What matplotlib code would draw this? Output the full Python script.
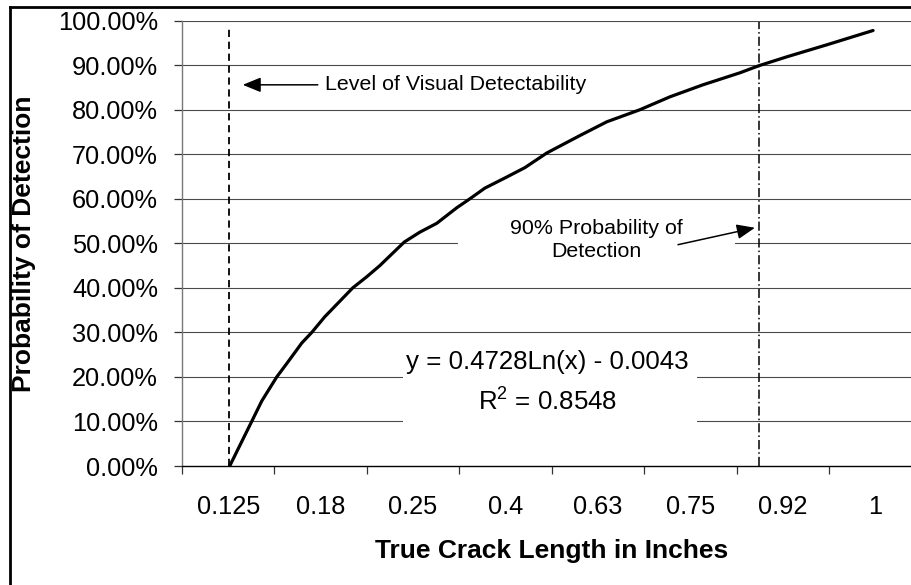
import matplotlib
matplotlib.use("Agg")
import matplotlib.pyplot as plt
from matplotlib.lines import Line2D
from matplotlib.patches import Rectangle
from matplotlib.ticker import FuncFormatter

plt.rcParams['font.family'] = ['Liberation Sans', 'DejaVu Sans']
plt.rcParams['mathtext.fontset'] = 'custom'
plt.rcParams['mathtext.rm'] = 'Liberation Sans'
plt.rcParams['mathtext.it'] = 'Liberation Sans'

# ---- data ----
categories = ['0.125', '0.18', '0.25', '0.4', '0.63', '0.75', '0.92', '1']
# probability-of-detection curve (x in category-position units, y as fraction)
curve_x = [0.016, 0.254, 0.363, 0.525, 0.633, 0.795, 0.904, 1.044, 1.347, 1.499,
           1.640, 1.905, 2.072, 2.256, 2.473, 2.614, 2.776, 3.014, 3.209, 3.447,
           3.804, 4.096, 4.453, 4.778, 5.135, 5.536, 5.742, 6.045, 6.478, 6.976]
curve_y = [0.000, 0.100, 0.146, 0.200, 0.230, 0.276, 0.300, 0.335, 0.400, 0.425,
           0.450, 0.503, 0.525, 0.545, 0.580, 0.600, 0.624, 0.649, 0.670, 0.703,
           0.742, 0.773, 0.800, 0.829, 0.856, 0.883, 0.899, 0.919, 0.946, 0.978]
visual_level_x = 0.005
visual_level_top = 0.982
pod90_x = 5.74
pod90_top = 0.998
y_ticks = [0.0, 0.1, 0.2, 0.3, 0.4, 0.5, 0.6, 0.7, 0.8, 0.9, 1.0]

W, H = 912, 585
fig = plt.figure(figsize=(W / 100, H / 100), dpi=100)
ax = fig.add_axes([182 / W, 1 - 466 / H, (921.5 - 182) / W, (466 - 20.7) / H])

ax.set_xlim(-0.5, len(categories) - 0.5)
ax.set_ylim(0, 1)

# gridlines
for yv in y_ticks[1:]:
    ax.axhline(yv, color='#4a4a4a', lw=0.8, zorder=1)

# white text boxes covering gridlines
ax.add_patch(Rectangle((1.89, 0.09), 5.07 - 1.89, 0.285 - 0.09, facecolor='white',
                       edgecolor='none', zorder=2))
ax.add_patch(Rectangle((2.49, 0.45), 5.48 - 2.49, 0.11, facecolor='white',
                       edgecolor='none', zorder=2))

# curve
ax.plot(curve_x, curve_y, color='black', lw=2.3, zorder=5, solid_capstyle='round')

# vertical reference lines
ax.plot([visual_level_x, visual_level_x], [0, visual_level_top], color='black', lw=1.3,
        linestyle=(0, (4, 2.6)), zorder=4)
ax.plot([pod90_x, pod90_x], [0, pod90_top], color='black', lw=1.1,
        linestyle=(0, (6, 2, 1, 2)), zorder=4)

# annotations
ax.annotate('', xy=(0.157, 0.856), xytext=(0.969, 0.856),
            arrowprops=dict(arrowstyle='-|>,head_length=1.1,head_width=0.45',
                            color='black', lw=1.1, shrinkA=0, shrinkB=0), zorder=6)
ax.text(1.045, 0.856, 'Level of Visual Detectability', fontsize=15.4,
        ha='left', va='center', zorder=6)

ax.annotate('', xy=(5.698, 0.535), xytext=(4.866, 0.497),
            arrowprops=dict(arrowstyle='-|>,head_length=1.1,head_width=0.45',
                            color='black', lw=1.1, shrinkA=0, shrinkB=0), zorder=6)
ax.text(3.988, 0.508, '90% Probability of\nDetection', fontsize=15.4,
        ha='center', va='center', multialignment='center', linespacing=1.25, zorder=6)

ax.text(3.457, 0.234, 'y = 0.4728Ln(x) - 0.0043', fontsize=18.6,
        ha='center', va='center', zorder=6)
ax.text(3.457, 0.144, r'R$^{\mathrm{2}}$ = 0.8548', fontsize=18.6,
        ha='center', va='center', zorder=6)

# axes styling
for s in ['top', 'right']:
    ax.spines[s].set_visible(False)
ax.spines['left'].set_color('#777777')
ax.spines['left'].set_linewidth(1.0)
ax.spines['bottom'].set_color('black')
ax.spines['bottom'].set_linewidth(1.0)

ax.set_yticks(y_ticks)
ax.yaxis.set_major_formatter(FuncFormatter(lambda v, p: f'{v * 100:.2f}%'))
ax.tick_params(axis='y', direction='out', length=5.8, width=0.9, color='#333333',
               labelsize=18.3, pad=11.5)

ax.set_xticks(range(len(categories)))
ax.set_xticklabels(categories)
ax.set_xticks([i - 0.5 for i in range(len(categories) + 1)], minor=True)
ax.tick_params(axis='x', which='major', length=0, labelsize=18.3, pad=21)
ax.tick_params(axis='x', which='minor', direction='out', length=5.8, width=0.9,
               color='#333333')

fig.text(551.5 / W, 1 - 551 / H, 'True Crack Length in Inches', fontsize=19,
         fontweight='bold', ha='center', va='center')
fig.text(24 / W, 1 - 243.5 / H, 'Probability of Detection', fontsize=19,
         fontweight='bold', ha='center', va='center', rotation=90)

# outer chart border (left and top visible)
fig.add_artist(Line2D([10 / W, 10 / W], [0, 1 - 7 / H], color='black', lw=2.0))
fig.add_artist(Line2D([10 / W, 1], [1 - 7 / H, 1 - 7 / H], color='black', lw=2.0))

fig.savefig('out.png', dpi=100)
